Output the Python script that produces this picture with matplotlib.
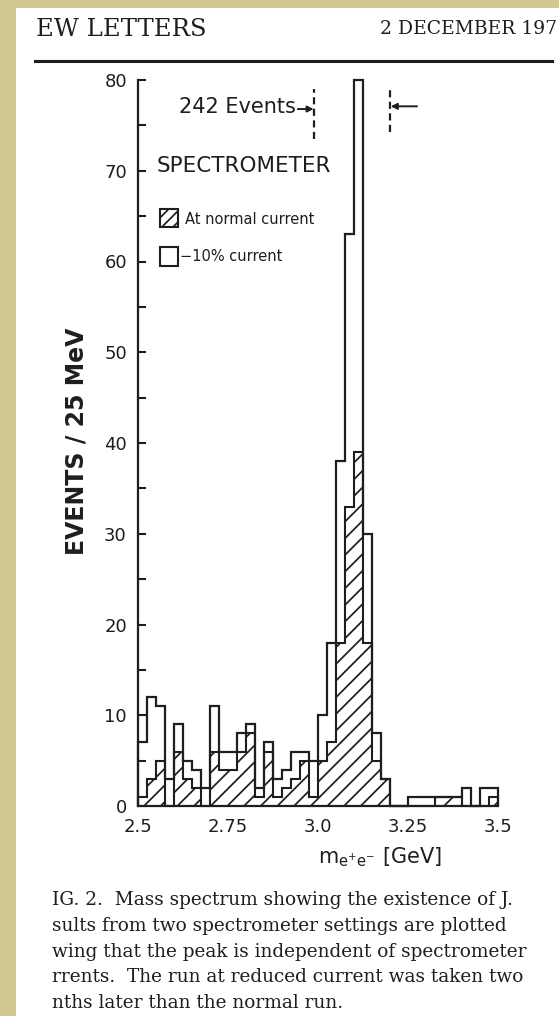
import matplotlib
matplotlib.use("Agg")
import matplotlib.pyplot as plt
from matplotlib import font_manager
from matplotlib.patches import Rectangle
from matplotlib.lines import Line2D
import numpy as np

W, H, DPI = 559, 1016, 100

# ---------------- data ----------------
bin_start = 2.5          # GeV
bin_width = 0.025        # GeV (25 MeV)
open_counts = [7, 12, 11, 3, 9, 5, 4, 2, 11, 6,
               6, 8, 9, 2, 7, 3, 4, 6, 6, 5,
               10, 18, 38, 63, 80, 30, 8, 3, 0, 0,
               1, 1, 1, 1, 1, 1, 2, 0, 2, 2]
normal_counts = [1, 3, 5, 0, 6, 3, 2, 0, 6, 4,
                 4, 6, 8, 1, 6, 1, 2, 3, 5, 1,
                 5, 7, 18, 33, 39, 18, 5, 3, 0, 0,
                 0, 0, 0, 1, 1, 1, 0, 0, 0, 1]
x_ticks = [2.5, 2.75, 3.0, 3.25, 3.5]
x_tick_labels = ["2.5", "2.75", "3.0", "3.25", "3.5"]
y_ticks = [0, 10, 20, 30, 40, 50, 60, 70, 80]
y_tick_labels = ["0", "10", "20", "30", "40", "50", "60", "70", "80"]
y_minor_ticks = [5, 15, 25, 35, 45, 55, 65, 75]
window_lo, window_hi = 2.99, 3.2
events_text = "242 Events"
legend_labels = ["At normal current", "\u221210% current"]
caption_lines = [
    "IG. 2.  Mass spectrum showing the existence of J.",
    "sults from two spectrometer settings are plotted",
    "wing that the peak is independent of spectrometer",
    "rrents.  The run at reduced current was taken two",
    "nths later than the normal run.",
]

edges = np.round(bin_start + bin_width * np.arange(len(open_counts) + 1), 4)

# ---------------- style ----------------
plt.rcParams["font.family"] = ["DejaVu Sans"]
plt.rcParams["hatch.linewidth"] = 1.25
plt.rcParams["mathtext.default"] = "regular"
INK = "#1e1e1e"

names = {f.name for f in font_manager.fontManager.ttflist}
if "Liberation Sans Narrow" in names:
    leg_family, leg_size = "Liberation Sans Narrow", 15
else:
    leg_family, leg_size = "DejaVu Sans", 10.5

fig = plt.figure(figsize=(W / DPI, H / DPI), dpi=DPI)
fig.patch.set_facecolor("#d3c792")
fig.add_artist(Rectangle((16 / W, 0), 1 - 16 / W, 1 - 8 / H,
                         transform=fig.transFigure, facecolor="white",
                         edgecolor="none", zorder=-10))

def fx(px):
    return px / W

def fy(py):
    return 1 - py / H

# header
fig.text(fx(36), fy(29), "EW LETTERS", family="DejaVu Serif", fontsize=17.5,
         color=INK, va="center", ha="left")
fig.text(fx(380), fy(29), "2 DECEMBER 197", family="DejaVu Serif",
         fontsize=13.5, color=INK, va="center", ha="left")
fig.add_artist(Line2D([fx(35), fx(552)], [fy(61), fy(61)], lw=2.2,
                      color=INK, transform=fig.transFigure))

# axes
ax = fig.add_axes([fx(138), fy(806), 360 / W, (806 - 80) / H])
ax.set_facecolor("none")
ax.set_xlim(edges[0], edges[-1])
ax.set_ylim(0, 80)
for s in ("top", "right"):
    ax.spines[s].set_visible(False)
for s in ("left", "bottom"):
    ax.spines[s].set_linewidth(1.6)
    ax.spines[s].set_color(INK)

ax.set_yticks(y_ticks)
ax.set_yticklabels(y_tick_labels)
ax.set_yticks(y_minor_ticks, minor=True)
ax.set_xticks(x_ticks)
ax.set_xticklabels(x_tick_labels)
ax.tick_params(axis="y", which="both", direction="in", length=6,
               width=1.5, color=INK, labelsize=13, pad=8, labelcolor=INK)
ax.tick_params(axis="x", which="both", length=0, labelsize=13, pad=9,
               labelcolor=INK)

# histograms
ax.stairs(normal_counts, edges, baseline=0, fill=True, hatch="//",
          facecolor="none", edgecolor=INK, lw=1.5, clip_on=False)
ax.stairs(open_counts, edges, baseline=0, fill=False, color=INK, lw=1.6,
          clip_on=False)

# window markers
dash = (0, (3.2, 2.0))
ax.plot([window_lo, window_lo], [73.5, 79.0], ls=dash, lw=1.6, color=INK,
        clip_on=False)
ax.plot([window_hi, window_hi], [74.3, 79.0], ls=dash, lw=1.6, color=INK,
        clip_on=False)
ax.annotate("", xy=(window_lo - 0.002, 76.8), xytext=(window_lo - 0.046, 76.8),
            arrowprops=dict(arrowstyle="-|>", lw=1.4, color=INK,
                            mutation_scale=9, shrinkA=0, shrinkB=0))
ax.annotate("", xy=(window_hi + 0.002, 77.1), xytext=(window_hi + 0.075, 77.1),
            arrowprops=dict(arrowstyle="-|>", lw=1.4, color=INK,
                            mutation_scale=9, shrinkA=0, shrinkB=0))
ax.text(window_lo - 0.052, 77.0, events_text, ha="right", va="center",
        fontsize=15, color=INK)

ax.text(2.553, 70.5, "SPECTROMETER", ha="left", va="center", fontsize=15.5,
        color=INK)

# legend
ax.add_patch(Rectangle((2.561, 63.8), 0.05, 2.0, facecolor="none",
                       edgecolor=INK, lw=1.5, hatch="///", clip_on=False))
ax.add_patch(Rectangle((2.561, 59.5), 0.05, 2.1, facecolor="none",
                       edgecolor=INK, lw=1.5, clip_on=False))
ax.text(2.631, 64.6, legend_labels[0], ha="left", va="center",
        family=leg_family, fontsize=leg_size, color=INK)
ax.text(2.616, 60.6, legend_labels[1], ha="left", va="center",
        family=leg_family, fontsize=leg_size, color=INK)

# axis labels
fig.text(fx(76), fy(441), "EVENTS / 25 MeV", rotation=90, ha="center",
         va="center", fontsize=17, fontweight="bold", color=INK)
fig.text(fx(380), fy(857), r"$m_{e^{+}e^{-}}$ [GeV]", ha="center",
         va="center", fontsize=15, color=INK)

# caption
for i, line in enumerate(caption_lines):
    fig.text(fx(52), fy(900 + 25.8 * i), line, family="DejaVu Serif",
             fontsize=13.3, color=INK, ha="left", va="center")

fig.savefig("out.png", dpi=DPI, facecolor=fig.get_facecolor())
